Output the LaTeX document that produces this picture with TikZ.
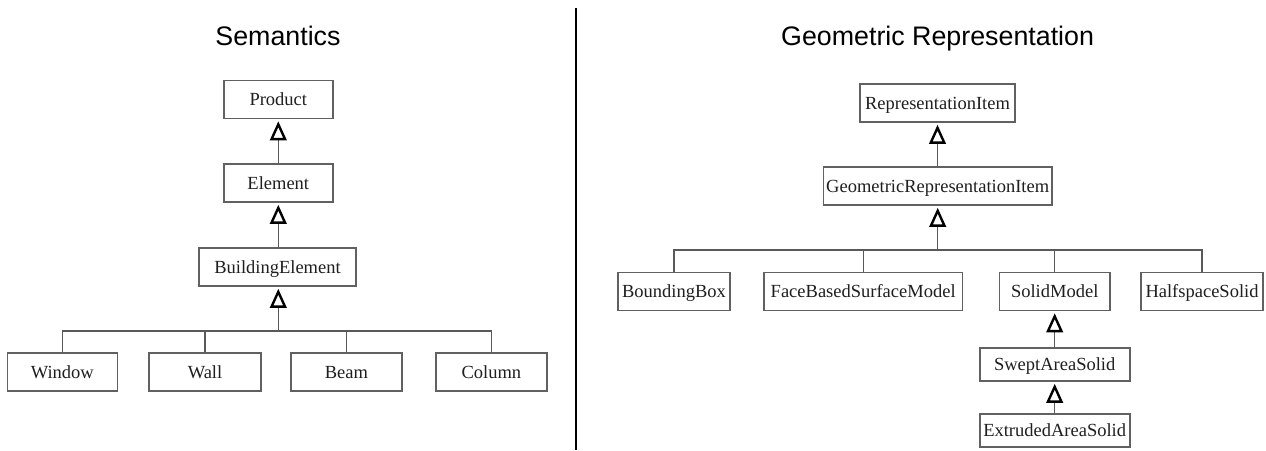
\documentclass[tikz,border=0pt]{standalone}
\usepackage{fontspec}
\setmainfont{Liberation Serif}
\newfontfamily\titlefont{Liberation Sans}
\usetikzlibrary{arrows.meta}
\begin{document}
\begin{tikzpicture}[x=1pt,y=-1pt,
  cls/.style={draw=black!62, line width=1.6pt, fill=white, rectangle, inner sep=0pt,
    minimum height=38pt, text=black!88, font=\fontsize{18.5}{20}\selectfont,
    text height=12.2pt, text depth=0pt},
  short/.style={minimum height=33pt},
  conn/.style={draw=black!65, line width=1.4pt},
  inh/.style={conn, shorten >=2pt, -{Triangle[open, width=16.5pt, length=19pt, line width=2.4pt, color=black, fill=white]}},
  ttl/.style={anchor=base, font=\titlefont\fontsize{26.8}{30}\selectfont, text=black}
]
\useasboundingbox (0,0) rectangle (1266,450);
\fill[white] (0,0) rectangle (1266,450);

% titles
\node[ttl] (t1) at (278,45) {Semantics};
\node[ttl] (t2) at (937.6,45) {Geometric Representation};

% divider
\coordinate (d1) at (576,8);
\coordinate (d2) at (576,450);
\draw[black, line width=2.2pt] (d1) -- (d2);

% left hierarchy
\node[cls, minimum width=109pt] (product) at (278.3,99.5) {Product};
\node[cls, minimum width=109pt] (element) at (278.3,183) {Element};
\node[cls, minimum width=157pt] (be) at (277.5,267) {BuildingElement};
\node[cls, minimum width=110pt] (window) at (62.3,372) {Window};
\node[cls, minimum width=112pt] (wall) at (205,372) {Wall};
\node[cls, minimum width=111pt] (beam) at (346.4,372) {Beam};
\node[cls, minimum width=111pt] (column) at (491.4,372) {Column};
\coordinate (lbus) at (278.3,331);

\draw[inh] (element.north) -- (product.south);
\draw[inh] (be.north -| element.south) -- (element.south);
\draw[inh] (lbus) -- (lbus |- be.south);
\draw[conn] (window.north) |- (lbus) -| (column.north);
\draw[conn] (wall.north) -- (wall.north |- lbus);
\draw[conn] (beam.north) -- (beam.north |- lbus);

% right hierarchy
\node[cls, minimum width=155pt] (ri) at (937.5,103) {RepresentationItem};
\node[cls, minimum width=228.5pt] (gri) at (937.7,186) {GeometricRepresentationItem};
\node[cls, minimum width=112pt] (bb) at (674,291.5) {BoundingBox};
\node[cls, minimum width=198.5pt] (fbsm) at (863.2,291.5) {FaceBasedSurfaceModel};
\node[cls, minimum width=110.5pt] (sm) at (1054.7,291.5) {SolidModel};
\node[cls, minimum width=122pt] (hs) at (1202,291.5) {HalfspaceSolid};
\node[cls, short, minimum width=150pt] (sas) at (1054.7,364.5) {SweptAreaSolid};
\node[cls, short, minimum width=150pt] (eas) at (1054.7,430.5) {ExtrudedAreaSolid};
\coordinate (rbus) at (937.7,250);

\draw[inh] (gri.north -| ri.south) -- (ri.south);
\draw[inh] (rbus) -- (rbus |- gri.south);
\draw[conn] (bb.north) |- (rbus) -| (hs.north);
\draw[conn] (fbsm.north) -- (fbsm.north |- rbus);
\draw[conn] (sm.north) -- (sm.north |- rbus);
\draw[inh] (sas.north) -- (sm.south);
\draw[inh] (eas.north) -- (sas.south);
\end{tikzpicture}
\end{document}
